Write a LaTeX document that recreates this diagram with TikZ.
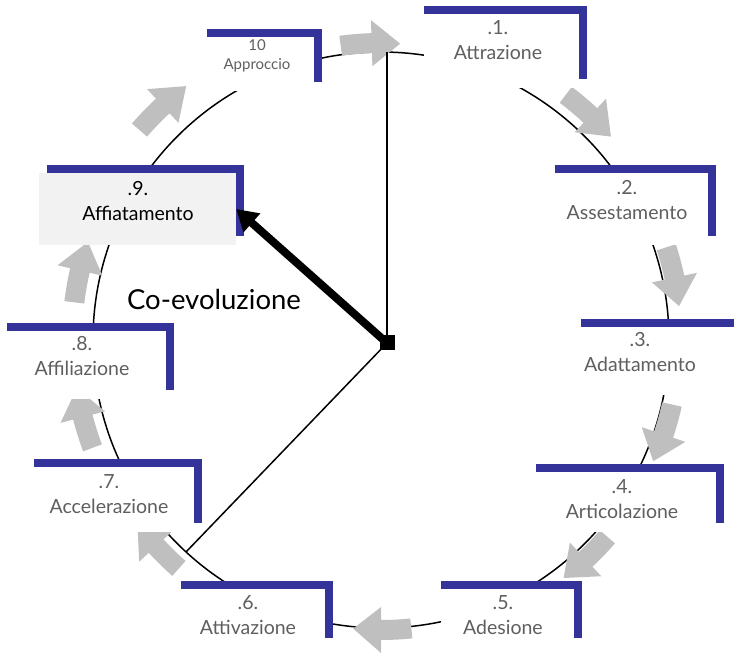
\documentclass[tikz,border=0pt]{standalone}
\usepackage{fontspec}
\setmainfont{Lato}
\usetikzlibrary{arrows.meta}

\definecolor{barblue}{HTML}{333399}
\definecolor{turngrey}{HTML}{BFBFBF}
\definecolor{panelgrey}{HTML}{F2F2F2}
\definecolor{txtgrey}{HTML}{5F5F5F}

\begin{document}
\begin{tikzpicture}[x=1pt,y=1pt,
    ring/.style={line width=1.5pt},
    spoke/.style={line width=1.5pt},
    bar/.style={draw=barblue,line width=8pt},
    turn/.style={fill=turngrey},
    lbl/.style={align=center,text=txtgrey,font=\fontsize{19.5}{25}\selectfont},
    lblsmall/.style={lbl,font=\fontsize{15}{19}\selectfont},
    hub/.style={fill=black,minimum size=15pt,inner sep=0pt},
    panel/.style={fill=panelgrey,minimum width=197pt,minimum height=72pt,inner sep=0pt},
    bigarrow/.style={line width=8pt,-{Triangle[length=21pt,width=24pt]}}]

    \useasboundingbox (0,0) rectangle (734,656);

    % Ring of the cycle
    \coordinate (c) at (381,316);
    \draw[ring] (c) circle[radius=288];

    % Grey turning arrows along the ring (centre angle / radius)
    \begin{scope}[shift={(c)}]
        \foreach \a/\r in {92.3/297, 47.5/307, 12.5/300, -18/298, -46.5/300,
                           -89.5/290, -137/305, -165/308, 167.5/309, 133.5/320} {
            \pgfmathsetmacro\as{\a+5.5}
            \pgfmathsetmacro\ab{\a-0.5}
            \pgfmathsetmacro\at{\a-6}
            \fill[turn] (\as:\r-10) arc[start angle=\as, end angle=\ab, radius=\r-10]
                -- (\ab:\r-23) -- (\at:\r) -- (\ab:\r+23) -- (\ab:\r+10)
                arc[start angle=\ab, end angle=\as, radius=\r+10] -- cycle;
        }
    \end{scope}

    % Spokes from the hub
    \node[hub] (hub) at (387,313) {};
    \coordinate (top) at (387,604);
    \coordinate (low) at (186,104);
    \draw[spoke] (hub.center) -- (top);
    \draw[spoke] (hub.center) -- (low);

    % Stage boxes: white ground, blue corner bar, label
    \foreach \k/\xl/\xr/\yt/\yb/\tx/\ty/\txt in {
        1/424/587/650/577/498/616/{.1.\\Attrazione},
        2/555/716/491/420/627/456/{.2.\\Assestamento},
        3/581/742/337/270/640/304/{.3.\\Adattamento},
        4/536/724/192/133/622/157/{.4.\\Articolazione},
        5/441/582/75/18/503/41/{.5.\\Adesione},
        6/181/333/75/18/248/41/{.6.\\Attivazione},
        7/34/202/197/133/109/162/{.7.\\Accelerazione},
        8/7/174/333/266/82/300/{.8.\\Affiliazione}} {
        \fill[white] (\xl,\yt) rectangle (\xr,\yb-9);
        \draw[bar] (\xl,\yt-4) -| (\xr-4,\yb);
        \node[lbl] (t\k) at (\tx,\ty) {\txt};
    }

    % Box 10, smaller text
    \fill[white] (207,627) rectangle (322,565);
    \draw[bar] (207,623) -| (318,574);
    \node[lblsmall] (t10) at (257,600) {10\\Approccio};

    % Box 9, highlighted
    \node[panel] (p9) at (137.5,447) {};
    \draw[bar] (47,487) -| (240,420);
    \node[lbl,text=black] (t9) at (138,455) {.9.\\Affiatamento};

    % Co-evolution arrow
    \draw[bigarrow] (hub.center) -- (p9.east);
    \node[hub] at (hub) {};
    \node[font=\fontsize{27.5}{32}\selectfont] (coev) at (214,357) {Co-evoluzione};

\end{tikzpicture}
\end{document}
